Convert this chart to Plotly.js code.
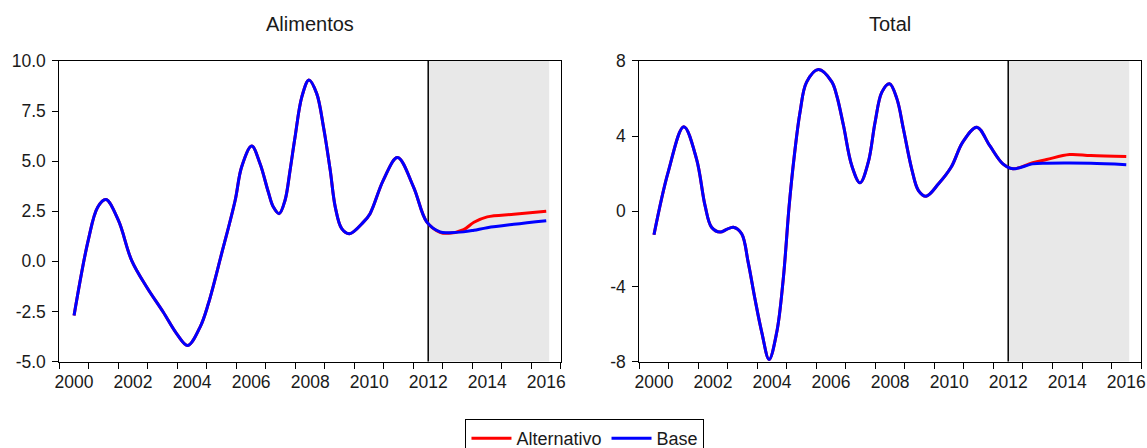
<!DOCTYPE html>
<html>
<head>
<meta charset="utf-8">
<script src="https://cdn.plot.ly/plotly-3.0.1.min.js"></script>
<style>html,body{margin:0;padding:0;background:#fff;}#chart{width:1147px;height:448px;}</style>
</head>
<body>
<div id="chart"></div>
<script>
// ---- Data (decimal years) ----
const aliYears = [2000.5, 2000.98, 2001.3, 2001.58, 2002.0, 2002.45, 2002.96, 2003.52, 2003.98, 2004.35,
  2004.77, 2005.05, 2005.5, 2005.96, 2006.18, 2006.52, 2006.8, 2007.08, 2007.25, 2007.45,
  2007.65, 2007.82, 2007.99, 2008.22, 2008.46, 2008.72, 2008.95, 2009.18, 2009.35, 2009.57,
  2009.83, 2010.31, 2010.53, 2010.98, 2011.46, 2012.0, 2012.45, 2012.9, 2013.2, 2013.7,
  2014.05, 2014.5, 2015.4, 2016.5];
const aliBase = [-2.7, 1.05, 2.7, 3.08, 2.05, 0.05, -1.28, -2.53, -3.62, -4.2,
  -3.28, -2.12, 0.38, 3.05, 4.72, 5.75, 4.88, 3.47, 2.72, 2.38,
  3.05, 4.55, 6.22, 8.22, 9.05, 8.38, 6.72, 4.55, 2.72, 1.63,
  1.38, 1.97, 2.38, 4.05, 5.18, 3.72, 1.97, 1.47, 1.43, 1.47,
  1.55, 1.68, 1.85, 2.03];
const aliAlt = [-2.7, 1.05, 2.7, 3.08, 2.05, 0.05, -1.28, -2.53, -3.62, -4.2,
  -3.28, -2.12, 0.38, 3.05, 4.72, 5.75, 4.88, 3.47, 2.72, 2.38,
  3.05, 4.55, 6.22, 8.22, 9.05, 8.38, 6.72, 4.55, 2.72, 1.63,
  1.38, 1.97, 2.38, 4.05, 5.18, 3.72, 1.97, 1.45, 1.40, 1.58,
  1.95, 2.22, 2.35, 2.5];

const totYears = [2000.5, 2000.98, 2001.51, 2001.94, 2002.23, 2002.45, 2002.74, 2002.96, 2003.19, 2003.47,
  2003.69, 2003.92, 2004.15, 2004.4, 2004.66, 2004.88, 2005.08, 2005.25, 2005.45, 2005.67,
  2006.07, 2006.52, 2006.69, 2006.92, 2007.2, 2007.48, 2007.76, 2007.99, 2008.22, 2008.48,
  2008.73, 2008.95, 2009.23, 2009.46, 2009.72, 2010.14, 2010.57, 2010.96, 2011.44, 2011.87,
  2012.32, 2012.66, 2013.33, 2013.8, 2014.58, 2015.3, 2016.5];
const totBase = [-1.25, 2.08, 4.5, 2.79, 0.3, -0.85, -1.11, -0.97, -0.85, -1.2,
  -2.71, -4.66, -6.43, -7.89, -6.43, -3.6, 0.3, 2.9, 5.3, 6.87,
  7.54, 6.9, 6.16, 4.56, 2.43, 1.51, 2.61, 4.74, 6.34, 6.78,
  5.98, 4.38, 2.26, 1.1, 0.8, 1.46, 2.35, 3.68, 4.47, 3.5,
  2.52, 2.26, 2.52, 2.56, 2.57, 2.55, 2.48];
const totAlt = [-1.25, 2.08, 4.5, 2.79, 0.3, -0.85, -1.11, -0.97, -0.85, -1.2,
  -2.71, -4.66, -6.43, -7.89, -6.43, -3.6, 0.3, 2.9, 5.3, 6.87,
  7.54, 6.9, 6.16, 4.56, 2.43, 1.51, 2.61, 4.74, 6.34, 6.78,
  5.98, 4.38, 2.26, 1.1, 0.8, 1.46, 2.35, 3.68, 4.47, 3.5,
  2.52, 2.26, 2.58, 2.75, 3.02, 2.96, 2.91];

const panelTitles = ["Alimentos", "Total"];
const seriesNames = ["Alternativo", "Base"];
const xLabelYears = [2000, 2002, 2004, 2006, 2008, 2010, 2012, 2014, 2016];
const yearBounds = [2000, 2001, 2002, 2003, 2004, 2005, 2006, 2007, 2008, 2009, 2010, 2011, 2012, 2013, 2014, 2015, 2016, 2017];
const aliTicks = [-5, -2.5, 0, 2.5, 5, 7.5, 10];
const aliTickText = ["-5.0", "-2.5", "0.0", "2.5", "5.0", "7.5", "10.0"];
const totTicks = [-8, -4, 0, 4, 8];
const totTickText = ["-8", "-4", "0", "4", "8"];
const forecastStart = 2012.5;
const forecastEnd = 2016.6;

// ---- Styling ----
const RED = "#ff0000", BLUE = "#0000ff";
const FONT = "Liberation Sans, Arial, sans-serif";
const tickFont = {family: FONT, size: 17.5, color: "#1a1a1a"};

function line(x, y, color, name, xa, ya, show) {
  return {x: x, y: y, type: "scatter", mode: "lines", name: name,
    line: {color: color, width: 3, shape: "spline", smoothing: 1},
    xaxis: xa, yaxis: ya, showlegend: show, hoverinfo: "skip"};
}

const data = [
  line(aliYears, aliAlt, RED, seriesNames[0], "x", "y", true),
  line(aliYears, aliBase, BLUE, seriesNames[1], "x", "y", true),
  line(totYears, totAlt, RED, seriesNames[0], "x2", "y2", false),
  line(totYears, totBase, BLUE, seriesNames[1], "x2", "y2", false)
];

function xAxis(domain, anchor) {
  return {
    domain: domain, anchor: anchor, range: [2000, 2017],
    tickmode: "array", tickvals: xLabelYears.map(v => v + 0.5), ticktext: xLabelYears.map(String),
    ticks: "", ticklabelstandoff: 4,
    minor: {tickmode: "array", tickvals: yearBounds, ticks: "outside", ticklen: 6, tickwidth: 1, tickcolor: "#000", showgrid: false},
    showgrid: false, zeroline: false, showline: true, linecolor: "#000", linewidth: 1, mirror: true,
    tickfont: tickFont, fixedrange: true
  };
}
function yAxis(domain, anchor, range, vals, text) {
  return {
    domain: domain, anchor: anchor, range: range,
    tickmode: "array", tickvals: vals, ticktext: text,
    ticks: "outside", ticklen: 6, tickwidth: 1, tickcolor: "#000", ticklabelstandoff: 3,
    showgrid: false, zeroline: false, showline: true, linecolor: "#000", linewidth: 1, mirror: true,
    tickfont: tickFont, fixedrange: true
  };
}

const yDom = [0.193, 0.864];
const layout = {
  width: 1147, height: 448,
  margin: {l: 0, r: 0, t: 0, b: 0, autoexpand: false},
  paper_bgcolor: "#fff", plot_bgcolor: "#fff",
  font: {family: FONT, color: "#1a1a1a"},
  xaxis: xAxis([0.0517, 0.4891], "y"),
  yaxis: yAxis(yDom, "x", [-5, 10], aliTicks, aliTickText),
  xaxis2: xAxis([0.5573, 0.9948], "y2"),
  yaxis2: yAxis(yDom, "x2", [-8, 8], totTicks, totTickText),
  shapes: [
    {type: "rect", xref: "x", yref: "y domain", x0: forecastStart, x1: forecastEnd, y0: 0, y1: 1, fillcolor: "#e8e8e8", line: {width: 0}, layer: "below"},
    {type: "line", xref: "x", yref: "y domain", x0: forecastStart, x1: forecastStart, y0: 0, y1: 1, line: {color: "#000", width: 1.5}, layer: "below"},
    {type: "rect", xref: "x2", yref: "y2 domain", x0: forecastStart, x1: forecastEnd, y0: 0, y1: 1, fillcolor: "#e8e8e8", line: {width: 0}, layer: "below"},
    {type: "line", xref: "x2", yref: "y2 domain", x0: forecastStart, x1: forecastStart, y0: 0, y1: 1, line: {color: "#000", width: 1.5}, layer: "below"}
  ],
  annotations: [
    {text: panelTitles[0], xref: "x domain", yref: "paper", x: 0.5, y: (448 - 24) / 448, xanchor: "center", yanchor: "middle", showarrow: false, font: {family: FONT, size: 20, color: "#1a1a1a"}},
    {text: panelTitles[1], xref: "x2 domain", yref: "paper", x: 0.5, y: (448 - 24) / 448, xanchor: "center", yanchor: "middle", showarrow: false, font: {family: FONT, size: 20, color: "#1a1a1a"}}
  ],
  legend: {
    orientation: "h", x: 0.51, xanchor: "center", y: (448 - 419) / 448, yanchor: "top",
    bordercolor: "#000", borderwidth: 1, bgcolor: "#fff",
    font: {family: FONT, size: 18, color: "#1a1a1a"},
    itemwidth: 40, tracegroupgap: 0
  },
  showlegend: true
};

Plotly.newPlot("chart", data, layout, {displayModeBar: false, staticPlot: true});
</script>
</body>
</html>
